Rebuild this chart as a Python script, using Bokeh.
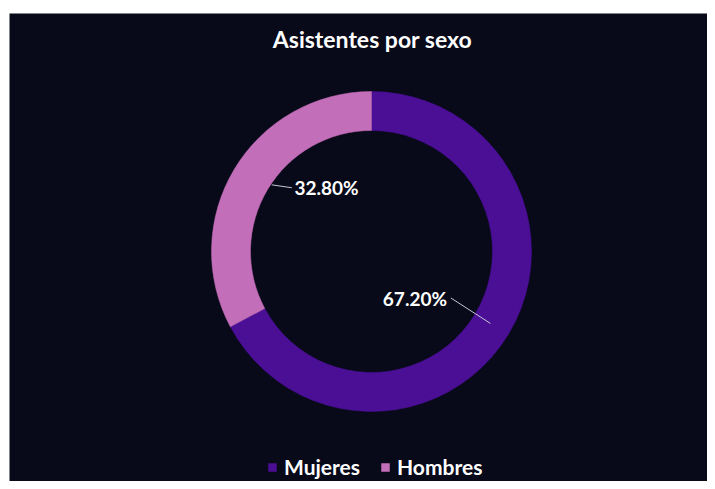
import math
from bokeh.plotting import figure
from bokeh.models import ColumnDataSource, Range1d, Legend, LegendItem
from bokeh.core.properties import value
from bokeh.embed import file_html
from bokeh.resources import INLINE

# ---- data ----
title_text = "Asistentes por sexo"
categories = ["Mujeres", "Hombres"]
percentages = [67.20, 32.80]
label_texts = ["67.20%", "32.80%"]
colors = ["#4B0F96", "#C36EB9"]

# ---- layout constants ----
W, H = 707, 481
PAGE_H = 489
CX, CY = 371, PAGE_H - 251   # donut centre (plot units == page px)
R_IN, R_OUT = 121, 160
BG = "#080919"
FONT = "Lato"

# wedge angles: clockwise from 12 o'clock
starts, ends, mids = [], [], []
cum = 0.0
for pct in percentages:
    end = 90 - cum * 3.6
    start = end - pct * 3.6
    starts.append(math.radians(start))
    ends.append(math.radians(end))
    mids.append((start + end) / 2)
    cum += pct

p = figure(width=W, height=H, output_backend="svg", toolbar_location=None,
           x_range=Range1d(9, W), y_range=Range1d(PAGE_H - H, PAGE_H - 13),
           min_border_left=9, min_border_top=13, min_border_right=0,
           min_border_bottom=0,
           background_fill_color=BG, border_fill_color="white",
           outline_line_color=None)
p.axis.visible = False
p.grid.visible = False

p.text(x=[CX + 1], y=[PAGE_H - 38], text=[title_text], text_color="white",
       text_font=value(FONT), text_font_size="23px", text_font_style="bold",
       text_align="center", text_baseline="middle")

wedges = []
for i in range(len(categories)):
    r = p.annular_wedge(x=CX, y=CY, inner_radius=R_IN, outer_radius=R_OUT,
                        start_angle=starts[i], end_angle=ends[i],
                        fill_color=colors[i], line_color=colors[i], line_width=0.5)
    wedges.append(r)

# data labels with leader lines: (line start r, dAng, line end r, dAng, text r, dAng, align)
label_style = [
    (139, -0.2, 92, 0.6, 89, -1.0, "right"),
    (120, -2.8, 102, -7.7, 100, -8.7, "left"),
]
for i, (r1, a1, r2, a2, rt, at, align) in enumerate(label_style):
    ang1 = math.radians(mids[i] + a1)
    ang2 = math.radians(mids[i] + a2)
    angt = math.radians(mids[i] + at)
    p.line([CX + r1 * math.cos(ang1), CX + r2 * math.cos(ang2)],
           [CY + r1 * math.sin(ang1), CY + r2 * math.sin(ang2)],
           line_color="#c9c6d6", line_width=1)
    p.text(x=[CX + rt * math.cos(angt)], y=[CY + rt * math.sin(angt)],
           text=[label_texts[i]], text_color="white", text_font=value(FONT),
           text_font_size="19px", text_font_style="bold",
           text_align=align, text_baseline="middle")

legend = Legend(items=[LegendItem(label=categories[i], renderers=[wedges[i]])
                       for i in range(len(categories))],
                orientation="horizontal", location=(258, 2),
                background_fill_alpha=0, border_line_color=None,
                label_text_color="white", label_text_font=FONT,
                label_text_font_size="21px", label_text_font_style="bold",
                glyph_width=10, glyph_height=10, spacing=20, padding=0,
                label_standoff=7, margin=0)
p.add_layout(legend, "center")

open("out.html", "w").write(file_html(p, INLINE))
